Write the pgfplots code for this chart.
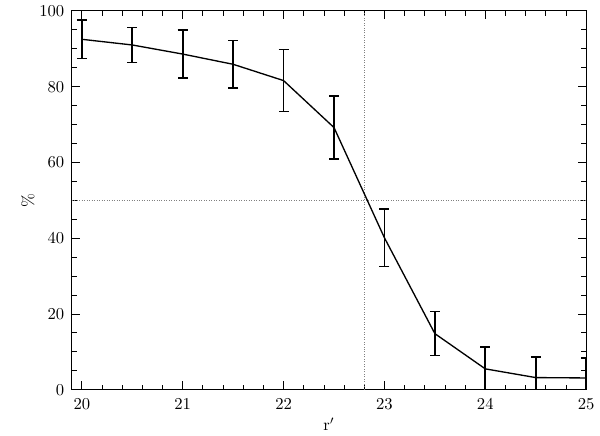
\documentclass[border=0pt]{standalone}
\usepackage{pgfplots}
\pgfplotsset{compat=1.18}
\begin{document}
\begin{tikzpicture}
\begin{axis}[
  at={(0,0)}, anchor=south west,
  scale only axis, width=309.6pt, height=228pt,
  xmin=19.9, xmax=25, ymin=0, ymax=100,
  xtick={20,21,22,23,24,25}, ytick={0,20,40,60,80,100},
  minor x tick num=4, minor y tick num=3,
  tick align=inside, tick pos=both,
  major tick length=5pt, minor tick length=3pt,
  tick style={black, line width=0.5pt},
  axis line style={line width=0.6pt},
  xticklabel style={yshift=-2pt},
  yticklabel style={xshift=-1pt},
  xlabel={r$'$}, ylabel={\%},
  xlabel style={yshift=2pt},
  ylabel style={yshift=-4pt},
  clip=true,
]
\addplot[gray, densely dotted, line width=0.5pt] coordinates {(19.9,50) (25,50)};
\addplot[gray, densely dotted, line width=0.5pt] coordinates {(22.8,0) (22.8,100)};
\addplot[black, line width=0.8pt, mark=none,
  error bars/.cd, y dir=both, y explicit,
  error bar style={line width=1pt},
  error mark options={rotate=90, mark size=3pt, line width=1pt}]
  table[x=x, y=y, y error=e] {
x y e
20 92.5 5.1
20.5 91.0 4.65
21 88.6 6.4
21.5 85.9 6.3
22 81.6 8.2
22.5 69.2 8.3
23 40.1 7.6
23.5 14.8 5.8
24 5.5 5.8
24.5 3.2 5.4
25 3.1 5.2
};
\end{axis}
\path (-43.2pt,-26.4pt) rectangle (316.8pt,233.4pt);
\end{tikzpicture}
\end{document}
